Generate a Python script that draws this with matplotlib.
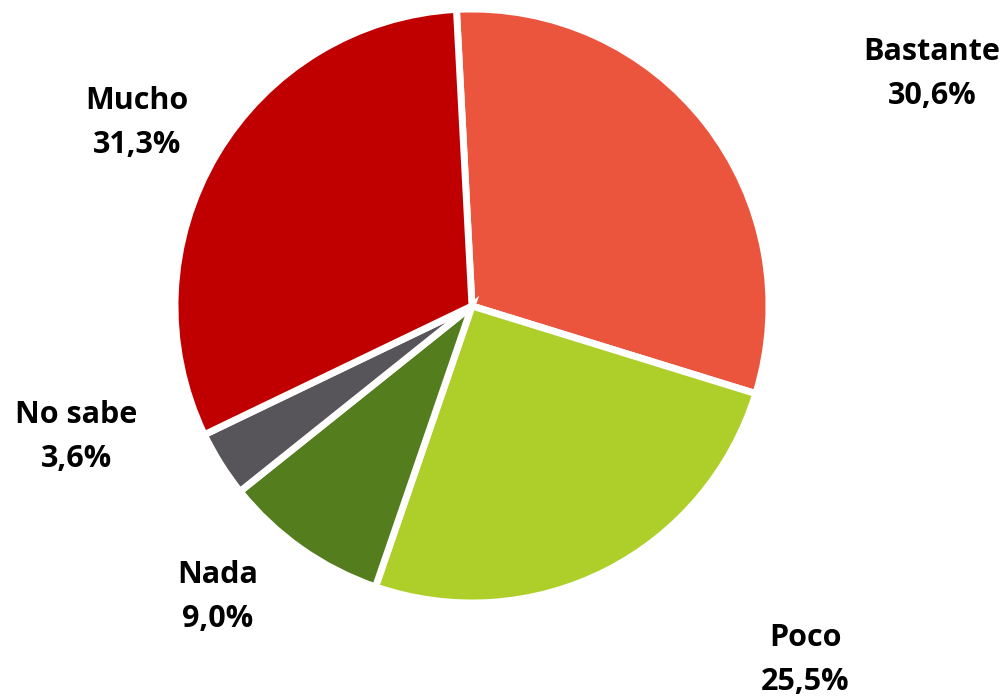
import matplotlib
matplotlib.use("Agg")
import matplotlib.pyplot as plt

categories = ["Bastante", "Poco", "Nada", "No sabe", "Mucho"]
values = [30.6, 25.5, 9.0, 3.6, 31.3]
colors = ["#EB553E", "#AECF2A", "#547D1D", "#58555A", "#C00000"]
label_pos = [(932, 624), (805, 38), (218, 101), (76, 261), (137, 575)]

W, H = 1005, 698
fig = plt.figure(figsize=(W / 100, H / 100), dpi=100)
ax = fig.add_axes([0, 0, 1, 1])

ax.pie(values, colors=colors, startangle=93, counterclock=False,
       center=(472, 392), radius=297, frame=True,
       wedgeprops=dict(edgecolor="white", linewidth=5))
ax.set_xlim(0, W)
ax.set_ylim(0, H)
ax.set_aspect("equal")
ax.axis("off")

for cat, val, (x, y) in zip(categories, values, label_pos):
    txt = f"{cat}\n{val:.1f}%".replace(".", ",")
    ax.text(x, y, txt, ha="center", va="center", multialignment="center",
            fontsize=22, fontweight="bold", family="Open Sans",
            color="#000000", linespacing=1.57)

fig.savefig("out.png", dpi=100)
